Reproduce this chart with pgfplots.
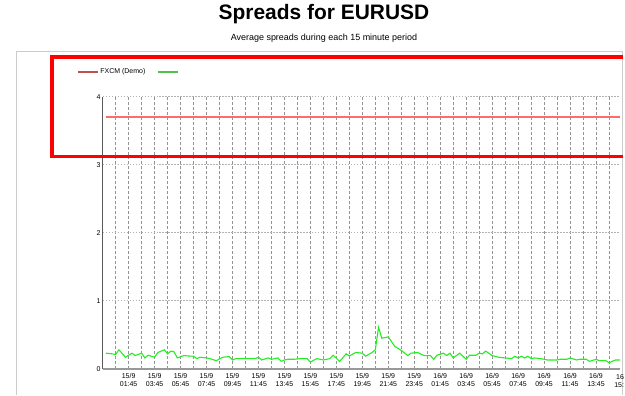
\documentclass[border=0pt]{standalone}
\usepackage{pgfplots}
\pgfplotsset{compat=1.18}
\usepackage{fontspec}
\setmainfont{Liberation Sans}
\definecolor{gline}{HTML}{22EE22}
\definecolor{rline}{HTML}{FF6A6A}
\definecolor{legred}{HTML}{C0504D}
\definecolor{leggreen}{HTML}{4CC44C}
\begin{document}
\begin{tikzpicture}
\path (0bp,0bp) rectangle (625bp,396bp);
\node[anchor=base,font=\fontsize{21bp}{24bp}\selectfont\bfseries] at (325bp,376bp) {Spreads for EURUSD};
\node[anchor=base,font=\fontsize{9bp}{10bp}\selectfont] at (325bp,355bp) {Average spreads during each 15 minute period};
\draw[black!20, line width=1bp] (17bp,0bp) -- (17bp,344bp) -- (624bp,344bp) -- (624bp,0bp);
\begin{axis}[
  at={(103bp,26bp)}, anchor=south west,
  scale only axis, width=519bp, height=273bp,
  xmin=-0.25, xmax=39.6, ymin=0, ymax=4,
  axis x line=bottom, axis y line=left,
  x axis line style={-, black!40, line width=1.5bp},
  y axis line style={-, black!65, line width=1bp},
  xtick={1.75,3.75,...,37.75},
  minor xtick={0.75,2.75,...,38.75},
  ytick={0,1,2,3,4},
  major tick length=0pt, minor tick length=0pt,
  xmajorgrids, xminorgrids, ymajorgrids,
  x grid style={black!42, line width=0.7bp, dash pattern=on 3bp off 2bp},
  y grid style={black!30, line width=0.7bp, dash pattern=on 1.5bp off 1.5bp},
  xticklabels={{15/9\\01:45},{15/9\\03:45},{15/9\\05:45},{15/9\\07:45},{15/9\\09:45},{15/9\\11:45},{15/9\\13:45},{15/9\\15:45},{15/9\\17:45},{15/9\\19:45},{15/9\\21:45},{15/9\\23:45},{16/9\\01:45},{16/9\\03:45},{16/9\\05:45},{16/9\\07:45},{16/9\\09:45},{16/9\\11:45},{16/9\\13:45}},
  xticklabel style={align=center, font=\fontsize{7bp}{8bp}\selectfont, text=black, inner sep=1bp, yshift=-3bp},
  yticklabel style={font=\fontsize{7bp}{8bp}\selectfont, text=black, inner sep=1bp, xshift=-1bp},
  /pgf/number format/assume math mode=true,
  legend image code/.code={\draw[#1] (0bp,0bp) -- (20bp,0bp);},
  legend style={at={(axis description cs:-0.0501,1.0916)}, anchor=west, draw=none, fill=none, inner sep=0pt,
    font=\fontsize{7bp}{8bp}\selectfont, nodes={inner sep=1.5bp},
    /tikz/every even column/.append style={column sep=10bp}},
  legend columns=2,
]
\addplot[rline, line width=1.3bp, forget plot] coordinates {(0,3.7) (39.6,3.7)};
\addplot[gline, line width=1.1bp, forget plot] table {
x y
0.0 0.23
0.5 0.22
0.75 0.21
1.0 0.28
1.5 0.17
2.0 0.23
2.25 0.195
2.75 0.23
3.0 0.16
3.25 0.20
3.75 0.17
4.0 0.24
4.5 0.28
4.75 0.22
5.0 0.26
5.25 0.25
5.5 0.16
6.0 0.195
6.25 0.19
6.75 0.185
7.0 0.15
7.25 0.17
7.75 0.16
8.0 0.15
8.5 0.12
9.0 0.17
9.5 0.18
9.75 0.13
10.0 0.15
10.5 0.15
11.0 0.15
11.5 0.15
11.75 0.17
12.0 0.13
12.5 0.16
12.75 0.14
13.25 0.16
13.5 0.11
13.75 0.13
14.0 0.14
14.5 0.14
15.0 0.15
15.5 0.15
15.75 0.10
16.25 0.15
16.75 0.13
17.25 0.15
17.5 0.20
18.0 0.11
18.5 0.22
18.75 0.19
19.25 0.24
19.75 0.23
20.0 0.185
20.5 0.24
20.75 0.28
21.0 0.61
21.25 0.45
21.75 0.47
22.0 0.40
22.25 0.33
22.5 0.30
22.75 0.27
23.25 0.195
23.5 0.23
24.0 0.24
24.5 0.195
25.0 0.195
25.25 0.14
25.5 0.20
26.0 0.23
26.25 0.195
26.5 0.23
26.75 0.16
27.0 0.195
27.25 0.23
27.75 0.14
28.0 0.20
28.5 0.20
28.75 0.23
29.0 0.22
29.25 0.26
29.75 0.195
30.25 0.17
30.75 0.16
31.25 0.15
31.5 0.185
31.75 0.16
32.0 0.185
32.25 0.16
32.5 0.185
32.75 0.15
33.0 0.16
33.5 0.15
34.0 0.13
34.25 0.13
34.75 0.13
35.0 0.14
35.5 0.14
35.75 0.16
36.25 0.13
36.5 0.14
37.0 0.14
37.25 0.11
37.75 0.14
38.0 0.12
38.5 0.12
38.75 0.09
39.25 0.13
39.6 0.13
};
\addlegendimage{legred, line width=2bp}
\addlegendentry{FXCM (Demo)}
\addlegendimage{leggreen, line width=2bp}
\addlegendentry{}
\end{axis}
\draw[red, line width=4bp] (625bp,338.5bp) -- (52bp,338.5bp) -- (52bp,239bp) -- (625bp,239bp);
\pgfinterruptboundingbox
\begin{scope}
\clip (0bp,0bp) rectangle (625bp,396bp);
\node[anchor=north, align=center, font=\fontsize{7bp}{8bp}\selectfont, text=black, inner sep=1bp] at (625bp,22bp) {16/9\\15:45};
\end{scope}
\endpgfinterruptboundingbox
\end{tikzpicture}
\end{document}
